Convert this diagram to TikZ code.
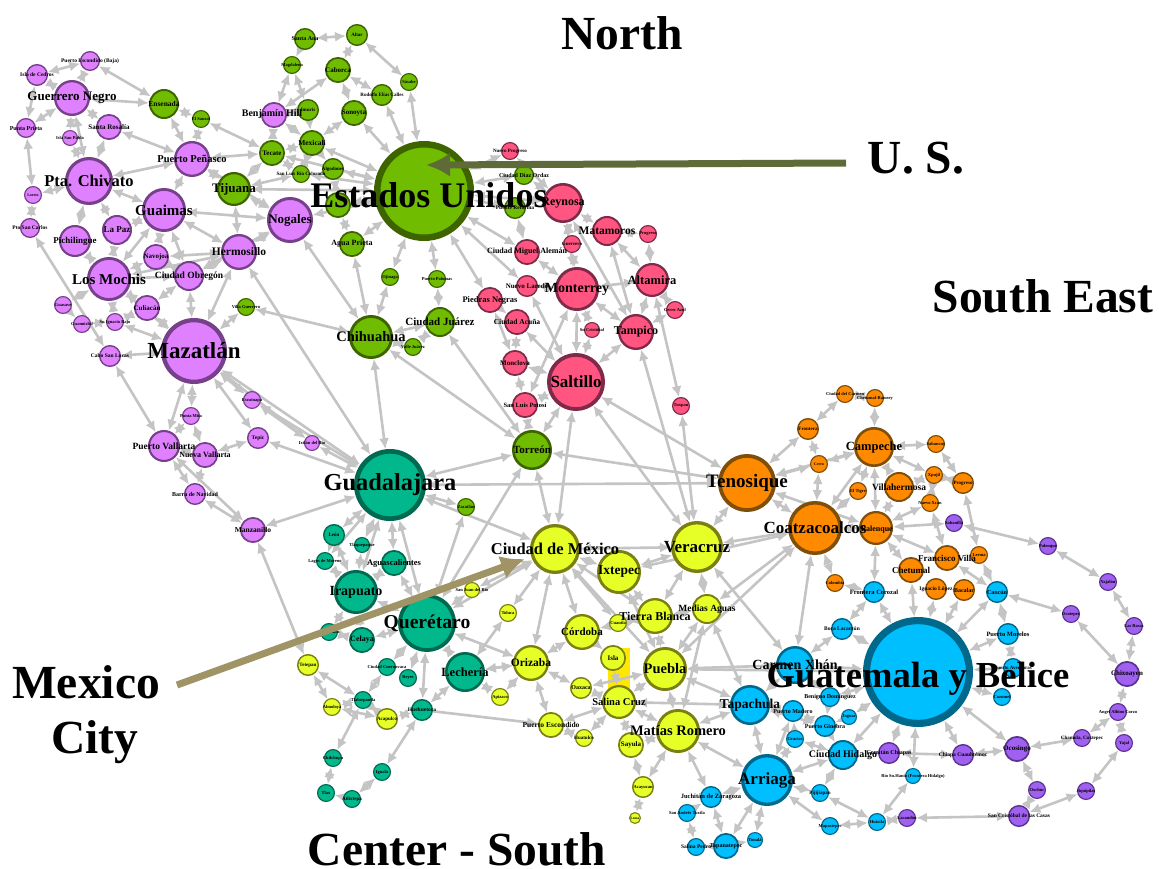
\documentclass[tikz,border=0pt]{standalone}
\usepackage{fontspec}
\setmainfont{Liberation Serif}
\usetikzlibrary{arrows.meta}
\definecolor{purF}{HTML}{DF80FF}\definecolor{purD}{HTML}{77408A}
\definecolor{greF}{HTML}{70BC00}\definecolor{greD}{HTML}{3E6400}
\definecolor{pinF}{HTML}{FF5580}\definecolor{pinD}{HTML}{7E2A48}
\definecolor{teaF}{HTML}{00B88C}\definecolor{teaD}{HTML}{006A50}
\definecolor{yelF}{HTML}{E6FF26}\definecolor{yelD}{HTML}{7A7F10}
\definecolor{oraF}{HTML}{FF8A00}\definecolor{oraD}{HTML}{7F4E08}
\definecolor{bluF}{HTML}{00BFFF}\definecolor{bluD}{HTML}{00688A}
\definecolor{vioF}{HTML}{A060F0}\definecolor{vioD}{HTML}{5A3490}
\definecolor{edgeC}{HTML}{C4C4C4}
\definecolor{usArrow}{HTML}{5E6B38}
\definecolor{mxArrow}{HTML}{A09466}
\pgfdeclarelayer{paper}\pgfdeclarelayer{bgedges}\pgfdeclarelayer{fglabels}\pgfsetlayers{paper,bgedges,main,fglabels}
\tikzset{
 cityedge/.style={draw=edgeC,line width=2.6pt,{Latex[length=11pt,width=10pt]}-{Latex[length=11pt,width=10pt]}},
 cityone/.style={draw=edgeC,line width=2.6pt,-{Latex[length=11pt,width=10pt]}},
 citytext/.style={inner sep=0pt,text=black,font=\bfseries},
 bigtitle/.style={inner sep=0pt,text=black,font=\fontsize{47.5}{47.5}\selectfont\bfseries},
}
\newcommand{\cty}[8][0,0]{%
 \pgfmathsetmacro{\lwv}{max(1.1,#5*0.13)}%
 \pgfmathsetmacro{\dmv}{2*#5-\lwv}%
 \node[circle,inner sep=0pt,line width=\lwv pt,fill=#6F,draw=#6D,minimum size=\dmv pt] (#2) at (#3,#4) {};
 \begin{pgfonlayer}{fglabels}
 \node[citytext] (#2-l) at ([shift={(#1)}] #3,#4) {\fontsize{#7}{#7}\selectfont #8};
 \end{pgfonlayer}}
\begin{document}
\begin{tikzpicture}[x=1pt,y=-1pt]
\useasboundingbox (0,0) rectangle (1159,869);
\begin{pgfonlayer}{paper}
\fill[white] (0,0) rectangle (1159,869);
\fill[yellow!90!orange] (608,648) rectangle (630,693);
\end{pgfonlayer}
% north-west (purple)
\cty{iced}{37}{75}{11}{pur}{5.5}{Isla de Cedros}
\cty{palt}{90}{61}{10}{pur}{5.5}{Puerto Escondido (Baja)}
\cty{gneg}{72}{98}{18}{pur}{13}{Guerrero Negro}
\cty{ppri}{26}{128}{10}{pur}{6}{Punta Prieta}
\cty{ispa}{70}{138}{8}{pur}{4.5}{Isla San Pablo}
\cty{srosa}{109}{127}{13}{pur}{7}{Santa Rosalía}
\cty{pchi}{89}{181}{24}{pur}{16.5}{Pta. Chivato}
\cty{ppen}{192}{159}{18}{pur}{10.5}{Puerto Peñasco}
\cty{guai}{164}{210}{22}{pur}{15}{Guaimas}
\cty{cab}{33}{195}{9}{pur}{4}{Loreto}
\cty{psc}{30}{228}{10}{pur}{5.5}{Pto San Carlos}
\cty{lapaz}{117}{230}{15}{pur}{9}{La Paz}
\cty{pich}{75}{241}{16}{pur}{9}{Pichilingue}
\cty{nog}{290}{220}{23}{pur}{13}{Nogales}
\cty{herm}{239}{252}{18}{pur}{11.5}{Hermosillo}
\cty{nav}{156}{257}{13}{pur}{7}{Navojoa}
\cty{cobr}{189}{276}{15}{pur}{9.5}{Ciudad Obregón}
\cty{lmoc}{109}{279}{22}{pur}{15}{Los Mochis}
\cty{cul}{147}{308}{13}{pur}{7}{Culiacán}
\cty{guas}{63}{305}{9}{pur}{4.5}{Guasave}
\cty{gmch}{82}{324}{9}{pur}{4.5}{Guamúchil}
\cty{tbj}{115}{322}{9}{pur}{4.5}{Sn Ignacio Bajo}
\cty{maz}{194}{351}{33}{pur}{23}{Mazatlán}
\cty{csl}{110}{356}{11}{pur}{5.5}{Cabo San Lucas}
\cty{pvall}{164}{446}{16}{pur}{9.5}{Puerto Vallarta}
\cty{nval}{205}{455}{13}{pur}{8}{Nueva Vallarta}
\cty{pmita}{191}{416}{9}{pur}{4.5}{Punta Mita}
\cty{tepic}{258}{438}{11}{pur}{5.5}{Tepic}
\cty{esc}{252}{400}{9}{pur}{4.5}{Escuinapa}
\cty{ixt}{312}{443}{8}{pur}{4.5}{Ixtlán del Río}
\cty{bna}{195}{494}{11}{pur}{6}{Barra de Navidad}
\cty{manz}{253}{530}{13}{pur}{7.5}{Manzanillo}
\cty[-2,-1]{bhill}{274}{115}{13}{pur}{10}{Benjamín Hill}
% north (green)
\cty{ense}{164}{104}{15}{gre}{7.5}{Ensenada}
\cty{esau}{201}{119}{9}{gre}{4.5}{El Sauzal}
\cty{tij}{234}{189}{17}{gre}{13}{Tijuana}
\cty{tec}{272}{153}{13}{gre}{7}{Tecate}
\cty{sana}{305}{39}{11}{gre}{6}{Santa Ana}
\cty{altar}{357}{35}{11}{gre}{5}{Altar}
\cty{magd}{292}{65}{9}{gre}{4.5}{Magdalena}
\cty{cabo}{338}{70}{13}{gre}{7}{Caborca}
\cty{sono}{354}{113}{13}{gre}{7}{Sonoyta}
\cty{sas}{409}{82}{9}{gre}{4.5}{Sásabe}
\cty{rod}{382}{95}{11}{gre}{5}{Rodolfo Elías Calles}
\cty{imu}{308}{110}{11}{gre}{5}{Imuris}
\cty{mex}{312}{143}{13}{gre}{7.5}{Mexicali}
\cty{slrc}{301}{174}{9}{gre}{5}{San Luis Río Colorado}
\cty{algo}{333}{169}{11}{gre}{5}{Algodones}
\cty{can}{338}{205}{13}{gre}{1}{}
\cty{apr}{352}{244}{13}{gre}{8}{Agua Prieta}
\cty{oji}{390}{277}{9}{gre}{4.5}{Ojinaga}
\cty{ppal}{437}{279}{9}{gre}{4.5}{Puerto Palomas}
\cty{cjua}{440}{322}{15}{gre}{11}{Ciudad Juárez}
\cty{chih}{371}{337}{22}{gre}{14.5}{Chihuahua}
\cty{vjua}{413}{347}{9}{gre}{4.5}{Valle Juárez}
\cty{vgue}{246}{307}{9}{gre}{4.5}{Villa Guerrero}
\cty{cdo}{524}{175}{10}{gre}{6}{Ciudad Díaz Ordaz}
\cty{pref}{515}{208}{11}{gre}{5.5}{Puente Reforma}
\cty[5,4]{usa}{424}{191}{50}{gre}{36}{Estados Unidos}
% pink
\cty{nprog}{510}{151}{9}{pin}{5}{Nuevo Progreso}
\cty{rey}{563}{203}{20}{pin}{12}{Reynosa}
\cty{mat}{607}{231}{15}{pin}{11.5}{Matamoros}
\cty{gus}{648}{234}{9}{pin}{4.5}{Progreso}
\cty{guer}{572}{244}{9}{pin}{5}{Guerrero}
\cty{cmig}{527}{252}{13}{pin}{8}{Ciudad Miguel Alemán}
\cty{nlar}{527}{286}{11}{pin}{7}{Nuevo Laredo}
\cty{pneg}{490}{300}{13}{pin}{8.5}{Piedras Negras}
\cty{mont}{577}{289}{22}{pin}{14}{Monterrey}
\cty{alt}{652}{280}{17}{pin}{12.5}{Altamira}
\cty{cerro}{675}{310}{9}{pin}{4.5}{Cerro Azul}
\cty{acu}{517}{322}{13}{pin}{7.5}{Ciudad Acuña}
\cty{tam}{636}{332}{18}{pin}{12}{Tampico}
\cty{slc}{592}{330}{8}{pin}{4.5}{Sn Cristóbal}
\cty{monc}{515}{363}{13}{pin}{7}{Monclova}
\cty{sal}{576}{382}{29}{pin}{17}{Saltillo}
\cty{slp}{525}{405}{13}{pin}{6.5}{San Luis Potosí}
\cty{tuxp}{681}{406}{9}{pin}{4.5}{Tuxpan}
\cty{torr}{532}{450}{20}{gre}{11}{Torreón}
% teal
\cty{gdl}{390}{485}{36}{tea}{24.4}{Guadalajara}
\cty{leon}{334}{535}{11}{tea}{5}{León}
\cty{tlaq}{362}{545}{8}{tea}{4.5}{Tlaquepaque}
\cty{lagos}{325}{561}{9}{tea}{4.5}{Lagos de Moreno}
\cty{ags}{394}{563}{13}{tea}{8.5}{Aguascalientes}
\cty{irap}{356}{592}{22}{tea}{14}{Irapuato}
\cty{quer}{427}{623}{29}{tea}{19.6}{Querétaro}
\cty{cel}{362}{640}{13}{tea}{8}{Celaya}
\cty{sala}{329}{632}{9}{tea}{4.5}{Salamanca}
\cty{lech}{465}{672}{20}{tea}{12.5}{Lechería}
\cty{tula}{387}{667}{9}{tea}{4.5}{Ciudad Cuernavaca}
\cty{reye}{408}{678}{9}{tea}{4.5}{Reyes}
\cty{ciud}{363}{700}{9}{tea}{4.5}{Tlalnepantla}
\cty{hueh}{422}{710}{11}{tea}{5.5}{Huehuetoca}
\cty{chil}{333}{758}{9}{tea}{4.5}{Chilchupa}
\cty{tlax}{326}{793}{9}{tea}{4.5}{Tlax}
\cty{igua}{382}{772}{9}{tea}{4.5}{Iguala}
\cty{atli}{352}{799}{9}{tea}{5}{Atlixtepa}
\cty{zac}{466}{507}{9}{gre}{4.5}{Zacatlán}
% yellow
\cty{cdmx}{555}{549}{25}{yel}{16.5}{Ciudad de México}
\cty{ixtp}{619}{572}{22}{yel}{13.5}{Ixtepec}
\cty{vera}{697}{547}{26}{yel}{17}{Veracruz}
\cty{med}{707}{609}{15}{yel}{9.5}{Medias Aguas}
\cty{tb}{655}{616}{18}{yel}{12}{Tierra Blanca}
\cty{cord}{582}{632}{18}{yel}{11}{Córdoba}
\cty{oriz}{531}{663}{18}{yel}{11.5}{Orizaba}
\cty{cuau}{618}{623}{9}{yel}{4.5}{Cuautla}
\cty{isla}{613}{658}{13}{yel}{7}{Isla}
\cty{pue}{665}{669}{22}{yel}{14.5}{Puebla}
\cty{oax}{581}{688}{11}{yel}{6}{Oaxaca}
\cty{scruz}{619}{702}{17}{yel}{10.5}{Salina Cruz}
\cty{mrom}{678}{731}{22}{yel}{14.5}{Matías Romero}
\cty{say}{631}{745}{13}{yel}{7}{Sayula}
\cty{pesc}{551}{725}{13}{yel}{7.5}{Puerto Escondido}
\cty{hua}{584}{738}{9}{yel}{5}{Huatulco}
\cty{aca}{643}{787}{11}{yel}{4.5}{Acayucan}
\cty{loma}{635}{818}{6}{yel}{3.5}{Loma}
\cty{api}{500}{697}{9}{yel}{4.5}{Apizaco}
\cty{tol}{508}{613}{9}{yel}{4.5}{Toluca}
\cty{sjr}{472}{590}{8}{yel}{4.5}{San Juan del Río}
\cty{tetp}{308}{665}{11}{yel}{5}{Tetepan}
\cty{alm}{332}{707}{9}{yel}{4.5}{Almoloya}
\cty{acap}{387}{719}{11}{yel}{5}{Acapulco}
% orange
\cty{ten}{747}{483}{29}{ora}{19}{Tenosique}
\cty{coa}{815}{528}{27}{ora}{17}{Coatzacoalcos}
\cty{campe}{874}{447}{20}{ora}{12.5}{Campeche}
\cty{vill}{899}{487}{15}{ora}{9.5}{Villahermosa}
\cty[1,2]{pale}{876}{528}{17}{ora}{8}{Palenque}
\cty{cdc}{845}{394}{9}{ora}{4.5}{Ciudad del Carmen}
\cty{xp}{875}{398}{9}{ora}{4.5}{Chetumal-Ramsey}
\cty{fron}{808}{429}{11}{ora}{5}{Frontera}
\cty{cer}{819}{464}{9}{ora}{4}{Cerro}
\cty{tig}{858}{491}{9}{ora}{4.5}{El Tigre}
\cty{sab}{936}{444}{9}{ora}{4.5}{Sabancuy}
\cty{xpu}{934}{475}{9}{ora}{4.5}{Xpujil}
\cty{prog}{963}{483}{11}{ora}{5}{Progreso}
\cty{nxc}{930}{503}{9}{ora}{4.5}{Nuevo Xcan}
\cty{fvil}{947}{558}{13}{ora}{9}{Francisco Villa}
\cty{lerm}{979}{555}{9}{ora}{4.5}{Lerma}
\cty{chet}{911}{570}{13}{ora}{9}{Chetumal}
\cty{ign}{936}{589}{11}{ora}{5.5}{Ignacio López}
\cty{bac}{964}{590}{11}{ora}{6}{Bacalar}
\cty{col}{835}{583}{9}{ora}{4.5}{Colombia}
% blue
\cty[0,7]{guat}{918}{672}{55}{blu}{36.6}{Guatemala y Belice}
\cty{canc}{997}{592}{11}{blu}{6}{Cancún}
\cty{pmor}{1008}{634}{11}{blu}{6.5}{Puerto Morelos}
\cty{pave}{1013}{668}{10}{blu}{5}{Puerto Aventuras}
\cty{coz}{1002}{697}{9}{blu}{4.5}{Cozumel}
\cty{ef}{874}{592}{11}{blu}{6.5}{Frontera Corozal}
\cty{roc}{842}{629}{11}{blu}{5.5}{Boca Lacantún}
\cty{carm}{795}{665}{19}{blu}{14}{Carmen Xhán}
\cty{ben}{830}{697}{10}{blu}{6}{Benigno Domínguez}
\cty{mad}{793}{711}{11}{blu}{6}{Puerto Madero}
\cty{jag}{849}{717}{8}{blu}{4.5}{Jaguar}
\cty{gin}{825}{726}{11}{blu}{6}{Puerto Ginebra}
\cty{tapa}{750}{705}{20}{blu}{13.5}{Tapachula}
\cty{gra}{795}{739}{9}{blu}{4.5}{Gracias}
\cty{hid}{843}{755}{15}{blu}{10}{Ciudad Hidalgo}
\cty{arr}{767}{780}{26}{blu}{17}{Arriaga}
\cty{pij}{820}{793}{9}{blu}{5}{Pijijiapan}
\cty{map}{830}{826}{9}{blu}{4.5}{Mapastepec}
\cty{hux}{877}{822}{9}{blu}{4.5}{Huixtla}
\cty{juch}{711}{797}{11}{blu}{6.5}{Juchitán de Zaragoza}
\cty{sta}{687}{813}{9}{blu}{4.5}{San Andrés Tuxtla}
\cty{sal2}{696}{847}{9}{blu}{5.5}{Salina Pedro}
\cty{tap2}{726}{846}{13}{blu}{6}{Tapanatepec}
\cty{ton}{755}{840}{8}{blu}{4.5}{Tonalá}
\cty{rio}{913}{776}{8}{blu}{4.5}{Río Sn.Hanío (Frontera Hidalgo)}
% violet
\cty{sabp}{954}{523}{9}{vio}{4.5}{Sabanilla}
\cty{palp}{1048}{546}{9}{vio}{4.5}{Palenque}
\cty{yaj}{1108}{582}{9}{vio}{4.5}{Yajalón}
\cty{ocoy}{1071}{614}{9}{vio}{4.5}{Ocotepec}
\cty{xa}{1134}{626}{9}{vio}{4.5}{Las Rosas}
\cty{chix}{1127}{674}{13}{vio}{7}{Chixoayen}
\cty{xb}{1118}{712}{9}{vio}{4.5}{Angel Albino Corzo}
\cty{yaj2}{1124}{743}{9}{vio}{4.5}{Yajal}
\cty{cham}{1082}{738}{9}{vio}{5}{Chamula, Cuxtepec}
\cty{oco}{1017}{749}{13}{vio}{7}{Ocosingo}
\cty{chc}{963}{755}{11}{vio}{5.5}{Chiapa Cuauhtémoc}
\cty{com}{889}{753}{11}{vio}{6}{Comitán Chiapas}
\cty{xc}{1037}{790}{9}{vio}{4.5}{Oxchuc}
\cty{xd}{1086}{791}{9}{vio}{4.5}{Jiquipilas}
\cty{scc}{1019}{816}{11}{vio}{5.5}{San Cristóbal de las Casas}
\cty{xe}{907}{818}{9}{vio}{4.5}{Lacandón}
% connectors
\begin{pgfonlayer}{bgedges}
\foreach \a/\b in {iced/palt,iced/gneg,palt/gneg,palt/ense,ppri/iced,ppri/gneg,ppri/cab,cab/pchi,cab/psc,gneg/ispa,gneg/pchi,gneg/srosa,gneg/ense,srosa/pchi,ispa/pchi,srosa/ppen,pchi/ppen,pchi/guai,pchi/pich,pchi/lapaz,ense/esau,ense/ppen,esau/tec,esau/ppen,ppen/tec,ppen/tij,ppen/guai,ppen/nog,guai/lapaz,guai/nog,guai/herm,guai/cobr,guai/nav,guai/lmoc,tij/tec,tij/usa,tij/nog,tij/herm,nog/usa,nog/herm,nog/cobr,nog/chih,herm/cobr,herm/nav,herm/lmoc,herm/maz,pich/lmoc,lapaz/lmoc,nav/lmoc,nav/cobr,cobr/lmoc,cobr/maz,cobr/cul,lmoc/cul,lmoc/guas,lmoc/tbj,lmoc/maz,guas/gmch,gmch/tbj,tbj/maz,tbj/cul,cul/maz,vgue/maz,vgue/chih,csl/maz,csl/psc,csl/pvall,maz/pvall,maz/pmita,maz/tepic,maz/esc,maz/gdl,maz/ixt,pmita/nval,pmita/pvall,esc/ixt,ixt/gdl,tepic/gdl,tepic/nval,esc/gdl,nval/pvall,nval/bna,pvall/bna,pvall/manz,bna/manz,manz/gdl,manz/tetp,herm/gdl,
sana/altar,sana/magd,altar/cabo,altar/sas,magd/bhill,magd/imu,cabo/bhill,cabo/sono,cabo/rod,sas/usa,rod/usa,sono/usa,sono/mex,imu/mex,imu/bhill,bhill/tec,bhill/mex,tec/mex,tec/usa,tec/slrc,mex/slrc,mex/usa,mex/algo,algo/usa,slrc/usa,algo/can,slrc/tij,can/usa,can/apr,apr/usa,apr/chih,oji/usa,oji/chih,ppal/usa,ppal/cjua,cjua/chih,cjua/vjua,vjua/chih,chih/gdl,cjua/torr,chih/torr,
usa/nprog,usa/cdo,usa/pref,usa/cmig,usa/nlar,usa/pneg,usa/rey,nprog/rey,cdo/rey,pref/cmig,rey/mat,rey/guer,rey/mont,rey/tam,cmig/mont,guer/mont,mat/gus,mat/alt,mat/tam,gus/alt,alt/mont,alt/tam,alt/cerro,alt/tuxp,cerro/tam,nlar/sal,pneg/acu,pneg/monc,acu/monc,acu/sal,mont/sal,mont/tam,mont/slc,slc/sal,monc/sal,monc/slp,slp/sal,slp/torr,tam/sal,tam/vera,tuxp/vera,sal/torr,sal/cdmx,sal/ten,mont/slp,torr/cdmx,torr/gdl,torr/ten,gdl/ten,gdl/cdmx,gdl/zac,gdl/quer,sal/vera,nlar/mont,
ten/vera,ten/coa,ten/campe,ten/fron,vera/coa,vera/ixtp,vera/tb,vera/med,vera/cdmx,ixtp/cdmx,ixtp/tb,ixtp/pue,tb/cdmx,tb/med,tb/pue,tb/cord,tb/cuau,cdmx/cord,cdmx/oriz,cdmx/tol,cdmx/pue,cdmx/cuau,cord/oriz,cord/isla,oriz/oax,oriz/lech,oriz/pesc,oriz/api,isla/scruz,pue/scruz,pue/oax,pue/mrom,pue/med,pue/tapa,pue/guat,pue/carm,scruz/oax,scruz/pesc,scruz/hua,scruz/say,scruz/mrom,scruz/tapa,mrom/tapa,mrom/say,mrom/aca,mrom/juch,mrom/arr,say/aca,aca/loma,pesc/hua,med/mrom,med/coa,med/tapa,coa/ixtp,coa/pue,coa/carm,coa/col,coa/pale,ten/pale,vera/carm,ten/cer,cer/campe,cer/coa,campe/coa,fron/cer,fron/cdc,cdc/xp,xp/campe,campe/sab,campe/xpu,campe/vill,campe/pale,campe/tig,tig/coa,vill/pale,vill/xpu,sab/prog,xpu/prog,prog/lerm,nxc/pale,nxc/xpu,nxc/fvil,pale/sabp,sabp/palp,pale/fvil,pale/chet,pale/ef,lerm/canc,fvil/canc,chet/guat,ign/guat,bac/guat,canc/guat,canc/pmor,canc/ocoy,pmor/guat,pmor/pave,pave/guat,coz/guat,ef/guat,roc/guat,roc/carm,ef/roc,ef/col,
palp/yaj,yaj/xa,xa/chix,ocoy/chix,chix/xb,xb/cham,xb/yaj2,yaj2/xd,xd/scc,scc/xe,oco/xc,oco/cham,oco/chc,oco/guat,chc/com,chc/guat,com/guat,rio/guat,rio/hux,xc/scc,xe/hux,hux/map,hux/pij,map/arr,pij/arr,pij/hid,hid/guat,hid/arr,
arr/tapa,arr/gra,arr/juch,arr/tap2,arr/ton,tap2/juch,tap2/ton,tap2/sal2,sal2/sta,sta/juch,arr/mad,tapa/mad,tapa/carm,tapa/gin,mad/gin,ben/guat,ben/gin,jag/guat,jag/gin,gin/hid,gra/hid,carm/guat,carm/ben,gra/mad,
gdl/leon,gdl/tlaq,gdl/ags,gdl/irap,gdl/lagos,leon/lagos,leon/irap,tlaq/irap,lagos/irap,ags/irap,ags/quer,irap/sala,irap/quer,sala/cel,cel/quer,quer/lech,quer/tula,quer/reye,quer/hueh,quer/sjr,quer/oriz,tula/ciud,ciud/tetp,ciud/alm,ciud/acap,ciud/chil,tetp/alm,alm/acap,acap/hueh,hueh/lech,hueh/igua,igua/atli,atli/tlax,tlax/chil,lech/api,lech/oriz,zac/quer,quer/torr,quer/cdmx,sjr/cdmx,tol/lech,irap/cel}
 {\draw[cityedge] (\a) -- (\b);}
\draw[cityone] (hueh) -- (pesc);
\end{pgfonlayer}
% region titles and call-out arrows
\begin{pgfonlayer}{fglabels}
\node[bigtitle] (tnorth) at (622,33) {North};
\node[bigtitle] (tsouth) at (1043,296) {South East};
\node[bigtitle] (tus) at (916,158) {U. S.};
\node[bigtitle] (tmex) at (86,682) {Mexico};
\node[bigtitle] (tcity) at (95,742) {City};
\node[bigtitle] (tcen) at (457,849) {Center - South};
\coordinate (usfrom) at (846,163);
\coordinate (usto) at (426,165);
\coordinate (mxfrom) at (177,685);
\coordinate (mxto) at (525,559);
\draw[usArrow,line width=7pt,-{Latex[length=24pt,width=24pt]}] (usfrom) -- (usto);
\draw[mxArrow,line width=7pt,-{Latex[length=24pt,width=24pt]}] (mxfrom) -- (mxto);
\end{pgfonlayer}
\end{tikzpicture}
\end{document}
